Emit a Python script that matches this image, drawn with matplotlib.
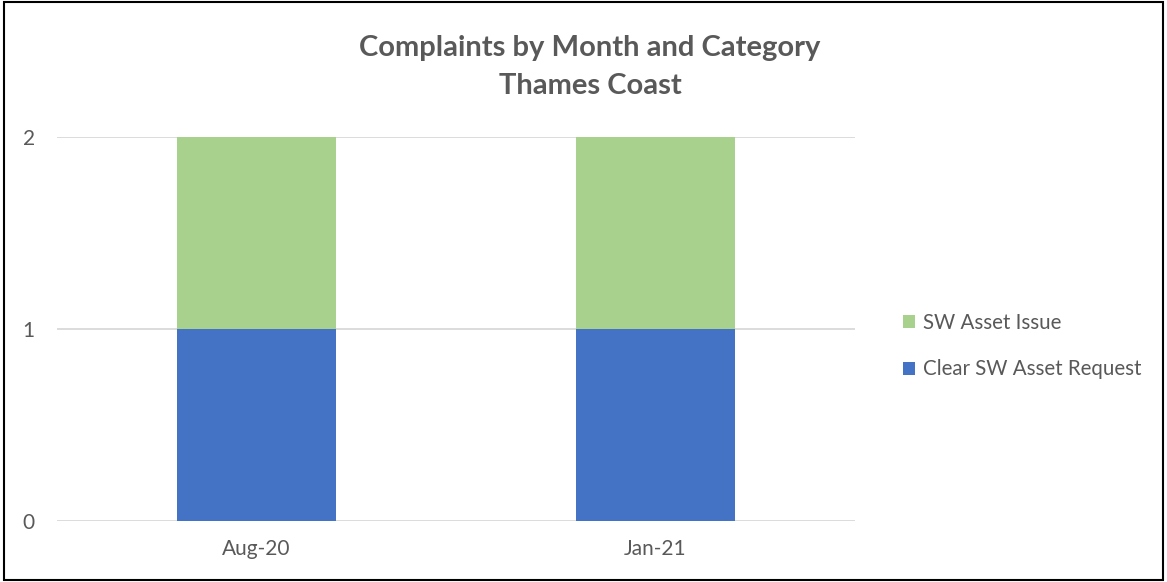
import matplotlib
matplotlib.use('Agg')
import matplotlib.pyplot as plt
from matplotlib.patches import Rectangle

months = ['Aug-20', 'Jan-21']
clear_sw = [1, 1]
sw_issue = [1, 1]
yticks = [0, 1, 2]

plt.rcParams['font.family'] = ['Lato', 'DejaVu Sans']

fig = plt.figure(figsize=(11.67, 5.82), dpi=100)
ax = fig.add_axes([57 / 1167, 1 - 521 / 582, (855 - 57) / 1167, (521 - 137) / 582])

x = range(len(months))
ax.bar(x, clear_sw, width=0.4, color='#4472C4', label='Clear SW Asset Request', zorder=3)
ax.bar(x, sw_issue, width=0.4, bottom=clear_sw, color='#A9D18E', label='SW Asset Issue', zorder=3)

ax.set_xlim(-0.5, 1.5)
ax.set_ylim(0, 2)
ax.set_yticks(yticks)
ax.set_xticks(list(x))
ax.set_xticklabels(months)
ax.grid(axis='y', color='#D9D9D9', linewidth=1.3, zorder=0)
for s in ax.spines.values():
    s.set_visible(False)
ax.tick_params(length=0, labelsize=15, labelcolor='#595959')
ax.tick_params(axis='y', pad=16)
ax.tick_params(axis='x', pad=13)

fig.text(590 / 1167, 1 - 67 / 582, 'Complaints by Month and Category\nThames Coast',
         ha='center', va='center', fontsize=21, fontweight='bold', color='#595959',
         linespacing=1.55)

h, l = ax.get_legend_handles_labels()
fig.legend(h[::-1], l[::-1], loc='center left', bbox_to_anchor=(884 / 1167, 1 - 346 / 582),
           frameon=False, fontsize=14.8, labelcolor='#595959', handlelength=0.6,
           handleheight=0.6, handletextpad=0.4, labelspacing=1.3)

fig.patches.append(Rectangle((0.003, 0.003), 0.994, 0.994, transform=fig.transFigure,
                             fill=False, edgecolor='black', linewidth=1.5))

fig.savefig('out.png', dpi=100)
